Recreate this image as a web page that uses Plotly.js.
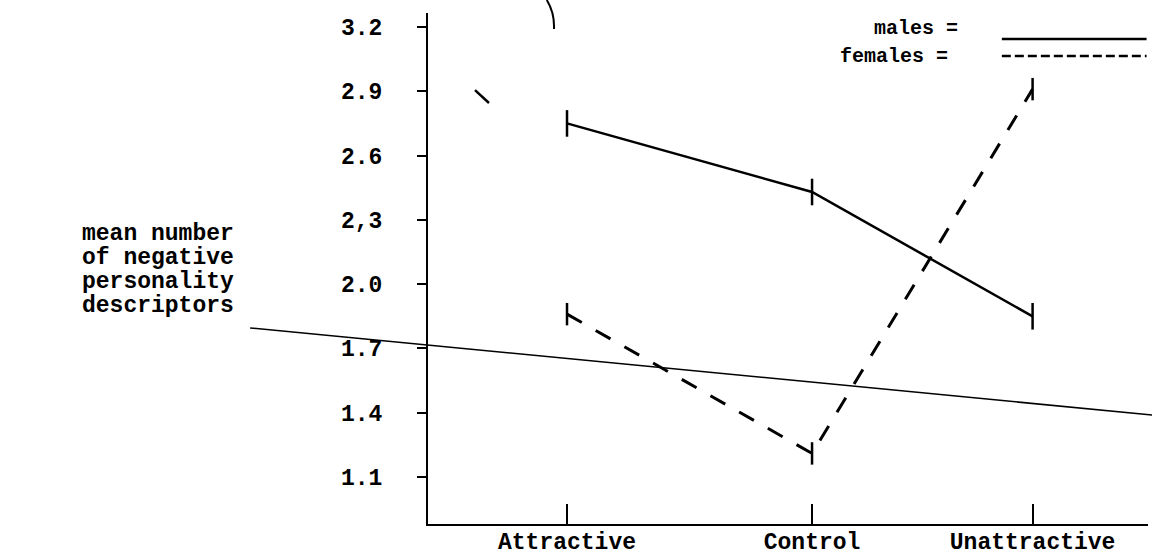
<!DOCTYPE html>
<html>
<head>
<meta charset="utf-8">
<script src="https://cdn.plot.ly/plotly-3.0.1.min.js"></script>
<style>html,body{margin:0;padding:0;background:#fff;}#chart{width:1152px;height:557px;}</style>
</head>
<body>
<div id="chart"></div>
<script>
// Categories and their positions along the (unevenly spaced) horizontal axis
var categories = ["Attractive", "Control", "Unattractive"];
var categoryPositions = [1, 2, 2.9];

// Mean number of negative personality descriptors
var malesValues = [2.75, 2.43, 1.85];
var femalesValues = [1.86, 1.21, 2.91];

// Y tick labels as printed (note the "2,3" in the original)
var yTickValues = [1.1, 1.4, 1.7, 2.0, 2.3, 2.6, 2.9, 3.2];
var yTickLabels = ["1.1", "1.4", "1.7", "2.0", "2,3", "2.6", "2.9", "3.2"];

// Y-axis title, typed on four lines
var yTitleLines = ["mean number", "of negative", "personality", "descriptors"];

var FONT = "Liberation Mono, Courier New, monospace";

var traces = [
  {
    x: categoryPositions, y: malesValues, name: "males",
    type: "scatter", mode: "lines+markers",
    line: {color: "#000", width: 2.5},
    marker: {symbol: "line-ns", size: 19, line: {color: "#000", width: 2.5}},
    showlegend: false, hoverinfo: "skip"
  },
  {
    x: categoryPositions, y: femalesValues, name: "females",
    type: "scatter", mode: "lines+markers",
    line: {color: "#000", width: 3, dash: "17px,16px"},
    marker: {symbol: "line-ns", size: 16, line: {color: "#000", width: 2.5}},
    showlegend: false, hoverinfo: "skip"
  }
];

var annotations = yTitleLines.map(function (t, i) {
  return {
    xref: "paper", yref: "paper", x: -0.483, y: 0.5675 - i * 0.047,
    xanchor: "left", yanchor: "middle", align: "left", showarrow: false,
    text: t, font: {family: FONT, size: 23, color: "#000", weight: "bold"}
  };
});
annotations.push(
  {
    xref: "paper", yref: "paper", x: 0.739, y: 0.97,
    xanchor: "right", yanchor: "middle", showarrow: false,
    text: "males =", font: {family: FONT, size: 20, color: "#000", weight: "bold"}
  },
  {
    xref: "paper", yref: "paper", x: 0.725, y: 0.914,
    xanchor: "right", yanchor: "middle", showarrow: false,
    text: "females =", font: {family: FONT, size: 20, color: "#000", weight: "bold"}
  }
);

var layout = {
  width: 1152, height: 557,
  margin: {l: 428, r: 4, t: 13, b: 33},
  paper_bgcolor: "#fff", plot_bgcolor: "#fff",
  showlegend: false,
  font: {family: FONT, color: "#000"},
  xaxis: {
    range: [0.4327, 3.371],
    tickmode: "array", tickvals: categoryPositions, ticktext: categories,
    ticks: "inside", ticklen: 20, tickwidth: 2, tickcolor: "#000",
    showline: true, linewidth: 2, linecolor: "#000",
    showgrid: false, zeroline: false,
    tickfont: {family: FONT, size: 23, color: "#000", weight: "bold"},
    ticklabelstandoff: -5
  },
  yaxis: {
    range: [0.8807, 3.2653],
    tickmode: "array", tickvals: yTickValues, ticktext: yTickLabels,
    ticks: "outside", ticklen: 9, tickwidth: 2, tickcolor: "#000",
    showline: true, linewidth: 2, linecolor: "#000",
    showgrid: false, zeroline: false,
    tickfont: {family: FONT, size: 23, color: "#000", weight: "bold"},
    ticklabelstandoff: 30
  },
  annotations: annotations,
  shapes: [
    // legend samples
    {type: "line", xref: "paper", yref: "paper", x0: 0.797, x1: 0.998, y0: 0.949, y1: 0.949,
     line: {color: "#000", width: 2.5}},
    {type: "line", xref: "paper", yref: "paper", x0: 0.797, x1: 0.998, y0: 0.916, y1: 0.916,
     line: {color: "#000", width: 2.5, dash: "9px,4px"}},
    // scan artefacts: long thin stray line, top arc, short stroke
    {type: "line", xref: "paper", yref: "paper", x0: -0.247, y0: 0.3836, x1: 1.0056, y1: 0.2133,
     line: {color: "#000", width: 1.5}},
    {type: "path", xref: "paper", yref: "paper",
     path: "M 0.165 1.0254 Q 0.176 1.0 0.175 0.9687", line: {color: "#000", width: 2}},
    {type: "line", xref: "paper", yref: "paper", x0: 0.0653, y0: 0.849, x1: 0.0847, y1: 0.8239,
     line: {color: "#000", width: 2.5}}
  ]
};

Plotly.newPlot("chart", traces, layout, {staticPlot: true, displayModeBar: false});
</script>
</body>
</html>
